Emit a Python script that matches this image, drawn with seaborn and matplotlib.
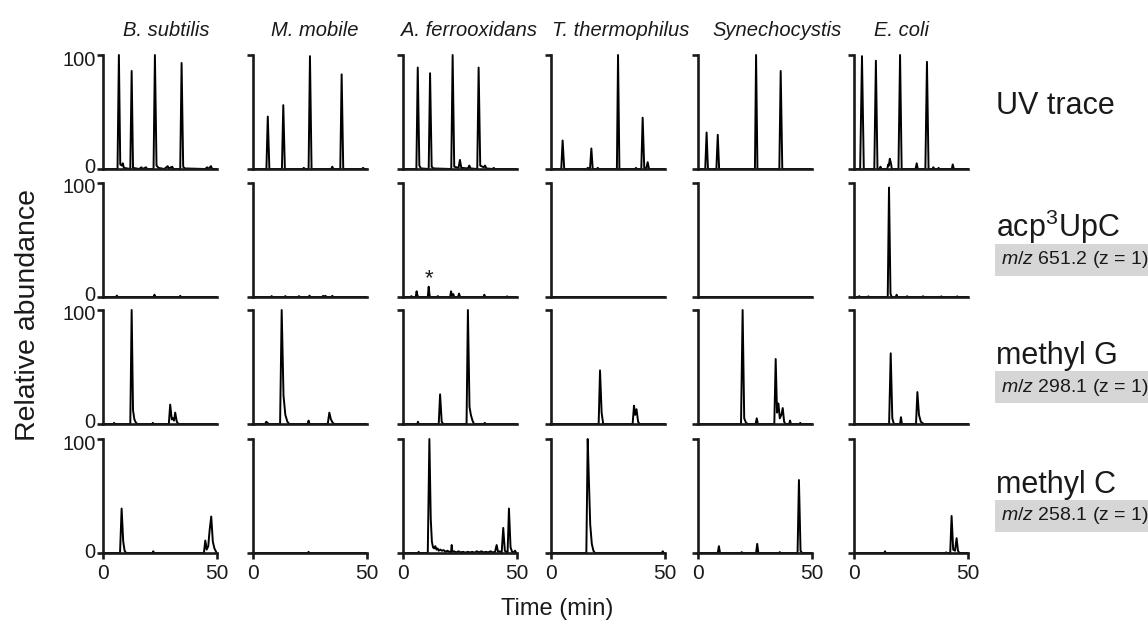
import matplotlib
matplotlib.use("Agg")
import matplotlib.pyplot as plt
from matplotlib.transforms import ScaledTranslation
import pandas as pd
import seaborn as sns

# ---------------- data ----------------
ORGANISMS = ["B. subtilis", "M. mobile", "A. ferrooxidans", "T. thermophilus", "Synechocystis", "E. coli"]
ROW_NAMES = ["UV trace", "acp$^\\mathregular{3}$UpC", "methyl G", "methyl C"]
ROW_MZ = [None, "651.2", "298.1", "258.1"]
Y_TICKS = [0, 100]
X_TICKS = [0, 50]
X_LABEL = "Time (min)"
Y_LABEL = "Relative abundance"

# traces: (time [min], relative abundance [%])
UV_BSUB = [(0, 0), (6.5, 0), (7.1, 100), (7.7, 4), (8.4, 3), (8.8, 5), (9.3, 1), (12.1, 0), (12.7, 86), (13.3, 1),
           (16, 0), (17, 1.5), (17.5, 0), (19, 1.5), (19.5, 0), (22.3, 0), (22.9, 100), (23.6, 3), (24.5, 1), (27, 0),
           (28.5, 2.5), (29, 0.5), (30.5, 2), (31, 0), (34, 0), (34.6, 93), (35.3, 2), (36, 0.5), (45, 0), (45.8, 1.5),
           (46.3, 0), (47.5, 2.5), (48, 0), (50, 0)]
UV_MMOB = [(0, 0), (6.1, 0), (6.7, 46), (7.4, 0), (12.9, 0), (13.5, 56), (14.2, 0), (22, 0), (22.5, 1), (23, 0),
           (24.6, 0), (25.2, 99), (25.9, 0), (34.5, 0), (35, 2), (35.5, 0), (38.5, 0), (39.1, 83), (39.8, 0), (48, 0),
           (48.5, 1), (49, 0), (50, 0)]
UV_AFER = [(0, 0), (6, 0), (6.6, 89), (7.3, 3), (8, 0.5), (11.4, 0), (12.0, 84), (12.7, 2), (13.5, 0.5), (21.3, 0),
           (21.9, 100), (22.6, 2), (24.5, 1), (25.1, 8), (25.7, 1), (28.6, 0.5), (29.2, 3), (29.8, 0.5), (32.7, 0),
           (33.3, 89), (34, 3), (35.5, 1.5), (36.1, 3), (36.7, 0.5), (39.5, 0), (39.9, 1), (40.4, 0), (50, 0)]
UV_TTHE = [(0, 0), (4.5, 0), (5.1, 25), (5.8, 0), (15.6, 0), (16.1, 1), (16.6, 0.5), (17.1, 0), (17.7, 18), (18.3, 0),
           (20.1, 0), (20.5, 1), (21, 0), (28.9, 0), (29.4, 100), (30, 0), (36.9, 0), (37.3, 1), (37.7, 0), (39.6, 0),
           (40.2, 45), (40.9, 1), (41.8, 0.5), (42.4, 6), (43, 0), (50, 0)]
UV_SYNE = [(0, 0), (3.3, 0), (3.9, 32), (4.5, 0), (8.2, 0), (8.8, 30), (9.4, 0), (25.1, 0), (25.6, 100), (26.2, 0),
           (35.8, 0), (36.4, 86), (37.1, 0), (50, 0)]
UV_ECOL = [(0, 0), (2.7, 0), (3.5, 99), (4.3, 0), (8.9, 0), (9.6, 95), (10.3, 0), (11.2, 0), (11.6, 2), (12, 0),
           (14.6, 0), (15.0, 4), (15.3, 3), (15.7, 9), (16.2, 5), (16.6, 0), (19.5, 0), (20.2, 100), (20.9, 0),
           (27.0, 0), (27.5, 5), (28, 0), (31.3, 0), (32, 94), (32.7, 0), (34.5, 0), (34.8, 1.5), (35.2, 0),
           (36.8, 0), (37.1, 1), (37.4, 0), (42.9, 0), (43.3, 4), (43.8, 0), (50, 0)]

ACP_BSUB = [(0, 0), (5.8, 0), (6.2, 1.2), (6.6, 0), (22.3, 0), (22.7, 2), (23.1, 0), (33.6, 0), (34, 1), (34.4, 0),
            (50, 0)]
ACP_MMOB = [(0, 0), (8, 0), (8.4, 0.8), (8.8, 0), (14, 0), (14.4, 0.8), (14.8, 0), (20, 0), (20.4, 0.8), (20.8, 0),
            (24.6, 0), (25, 1.2), (25.4, 0), (30.5, 0), (31, 1), (31.5, 0.3), (32, 1), (32.5, 0), (34.5, 0), (35, 1),
            (35.5, 0), (50, 0)]
ACP_AFER = [(0, 0), (3.5, 0), (3.8, 0.8), (4.1, 0), (5.7, 0), (6.1, 5), (6.5, 1), (7, 0), (11, 0), (11.4, 9),
            (11.8, 1), (12.3, 0), (15, 0), (15.4, 0.8), (15.8, 0), (20.8, 0), (21.2, 5), (21.6, 1), (22.2, 2.5),
            (22.6, 0), (24.3, 0), (24.7, 3), (25.2, 0), (35.4, 0), (35.8, 2), (36.2, 0), (45.5, 0), (45.8, 0.6),
            (46.1, 0), (50, 0)]
ACP_TTHE = [(0, 0), (50, 0)]
ACP_SYNE = [(0, 0), (50, 0)]
ACP_ECOL = [(0, 0), (2, 0), (2.3, 0.8), (2.6, 0), (6, 0), (6.3, 0.6), (6.6, 0), (14.8, 0), (15.35, 96), (16, 3),
            (16.5, 0), (18.4, 0), (18.7, 2), (19, 0), (23, 0), (23.3, 0.7), (23.6, 0), (30, 0), (30.3, 0.7),
            (30.6, 0), (38, 0), (38.3, 0.6), (38.6, 0), (45, 0), (45.3, 0.6), (45.6, 0), (50, 0)]
ASTERISK_PEAK = (11.4, 9)   # A. ferrooxidans acp3UpC peak marked with *

MEG_BSUB = [(0, 0), (4.7, 0), (5, 1), (5.3, 0), (12.1, 0), (12.7, 100), (13.3, 12), (13.9, 4), (14.6, 1), (15.3, 0),
            (21.7, 0), (22, 1), (22.3, 0), (29, 0), (29.6, 17), (30.3, 4), (30.8, 5), (31.3, 3), (31.8, 10),
            (32.5, 2), (33.2, 0), (50, 0)]
MEG_MMOB = [(0, 0), (5.6, 0), (6, 2), (6.6, 1), (7, 0), (12.1, 0), (12.8, 100), (13.6, 25), (14.4, 8), (15.3, 2),
            (16.1, 0), (24.2, 0), (24.6, 3), (25, 0), (33, 0), (33.7, 10), (34.4, 4), (35.2, 1), (36, 0), (50, 0)]
MEG_AFER = [(0, 0), (6.4, 0), (6.7, 2), (7, 0), (15.8, 0), (16.4, 26), (17.1, 2), (17.8, 0), (28.0, 0), (28.6, 100),
            (29.3, 15), (29.9, 8), (30.6, 3), (31.3, 0), (35.5, 0), (36, 1), (36.5, 0), (50, 0)]
MEG_TTHE = [(0, 0), (20.9, 0), (21.5, 47), (22.2, 10), (22.9, 0), (35.8, 0), (36.4, 16), (36.9, 8), (37.5, 13),
            (38.2, 2), (38.8, 0), (50, 0)]
MEG_SYNE = [(0, 0), (19, 0), (19.7, 100), (20.4, 5), (21.2, 1), (22, 0), (25.4, 0), (25.9, 5), (26.4, 0), (33.6, 0),
            (34.2, 57), (34.8, 10), (35.4, 18), (36, 5), (36.7, 8), (37.3, 14), (37.9, 2), (38.5, 0), (40.1, 0),
            (40.5, 3), (40.9, 0), (44.7, 0), (45, 1), (45.3, 0), (50, 0)]
MEG_ECOL = [(0, 0), (15.4, 0), (16.1, 62), (16.8, 5), (17.5, 0), (20.2, 0), (20.6, 6), (21, 0), (27.2, 0), (27.8, 28),
            (28.5, 8), (29.3, 2), (30.6, 0), (50, 0)]

MEC_BSUB = [(0, 0), (7.6, 0), (8.3, 39), (9, 10), (9.6, 2), (10.3, 0), (21.9, 0), (22.2, 1.5), (22.5, 0), (44.4, 0),
            (45, 11), (45.6, 3), (46.3, 6), (46.9, 20), (47.6, 32), (48.3, 10), (49, 4), (50, 0)]
MEC_MMOB = [(0, 0), (24.3, 0), (24.6, 1), (24.9, 0), (50, 0)]
MEC_AFER = [(0, 0), (6.7, 0), (7, 1), (7.3, 0), (11.0, 0), (11.7, 100), (12.3, 30), (12.8, 10), (13.3, 5), (13.8, 4),
            (14.3, 6), (14.8, 3), (15.3, 4), (15.8, 2), (16.5, 3), (17.2, 2), (18, 2.5), (18.8, 1), (19.6, 2),
            (20.5, 1), (21.2, 1), (21.5, 7), (21.8, 1), (22.5, 1.5), (23.5, 0.5), (24.5, 1.5), (25.5, 0.5), (26.5, 1),
            (27.5, 0.3), (28.5, 1), (29.5, 0.5), (30.5, 1), (31.5, 0.3), (32.5, 1.5), (33.5, 0.5), (34.5, 1.5),
            (35.5, 0.5), (36.5, 1), (37.5, 0.5), (38.5, 1.5), (39.5, 0.5), (40.5, 1), (41.2, 7), (41.8, 1),
            (42.5, 1.5), (43.4, 0), (44.1, 22), (44.8, 2), (45.4, 1), (46, 0), (46.6, 39), (47.3, 5), (48, 1),
            (48.7, 0.5), (49.3, 2), (49.8, 0), (50, 0)]
MEC_TTHE = [(0, 0), (15.5, 0), (16.1, 100), (16.6, 65), (17.2, 25), (17.9, 8), (18.6, 2), (19.3, 0), (48.6, 0),
            (49, 1.5), (49.4, 0), (50, 0)]
MEC_SYNE = [(0, 0), (8.8, 0), (9.3, 6), (9.8, 0), (19, 0), (19.3, 0.8), (19.6, 0), (25.6, 0), (26.1, 8), (26.6, 0),
            (35.7, 0), (36, 0.8), (36.3, 0), (43.8, 0), (44.4, 64), (45.1, 2), (45.8, 0), (50, 0)]
MEC_ECOL = [(0, 0), (13.3, 0), (13.6, 1.5), (13.9, 0), (40.1, 0), (40.4, 0.6), (40.7, 0), (42.2, 0), (42.8, 32.5),
            (43.5, 3), (44.3, 2), (45, 13), (45.6, 2), (46.2, 0), (50, 0)]

TRACES = [
    [UV_BSUB, UV_MMOB, UV_AFER, UV_TTHE, UV_SYNE, UV_ECOL],
    [ACP_BSUB, ACP_MMOB, ACP_AFER, ACP_TTHE, ACP_SYNE, ACP_ECOL],
    [MEG_BSUB, MEG_MMOB, MEG_AFER, MEG_TTHE, MEG_SYNE, MEG_ECOL],
    [MEC_BSUB, MEC_MMOB, MEC_AFER, MEC_TTHE, MEC_SYNE, MEC_ECOL],
]

# ---------------- style ----------------
sns.set_theme(style="ticks")
plt.rcParams["font.family"] = ["Liberation Sans", "DejaVu Sans"]
plt.rcParams["mathtext.fontset"] = "custom"
plt.rcParams["mathtext.rm"] = "Liberation Sans"
plt.rcParams["mathtext.it"] = "Liberation Sans:italic"

W, H = 1148, 635
fig = plt.figure(figsize=(W / 100, H / 100), dpi=100)
fig.patch.set_facecolor("white")

COL_X0 = [102.7, 252.5, 402.7, 551, 697.7, 854]
ROW_TOP = [55, 183, 310, 439]
AX_W, AX_H = 114, 114
SPINE_LW = 1.9
TRACE_LW = 1.4
INK = "#1a1a1a"

for r in range(4):
    for c in range(6):
        ax = fig.add_axes([COL_X0[c] / W, 1 - (ROW_TOP[r] + AX_H) / H, AX_W / W, AX_H / H])
        ax.set_facecolor("white")
        df = pd.DataFrame(TRACES[r][c], columns=["t", "y"])
        sns.lineplot(data=df, x="t", y="y", ax=ax, color="black", linewidth=TRACE_LW,
                     estimator=None, sort=False, legend=False)
        for ln in ax.lines:
            ln.set_clip_on(False)
        ax.set_xlim(X_TICKS[0], X_TICKS[-1])
        ax.set_ylim(Y_TICKS[0], Y_TICKS[-1])
        ax.set_xlabel("")
        ax.set_ylabel("")
        for s in ["top", "right"]:
            ax.spines[s].set_visible(False)
        for s in ["left", "bottom"]:
            ax.spines[s].set_linewidth(SPINE_LW)
            ax.spines[s].set_color(INK)
        ax.set_yticks(Y_TICKS)
        ax.tick_params(axis="y", length=4, width=SPINE_LW, color=INK, labelsize=14.5, pad=1,
                       labelleft=(c == 0), labelcolor=INK)
        if c == 0:
            # nudge "0" up and "100" down a little, as in the original figure
            for tick, dy in zip(ax.yaxis.get_major_ticks(), [3, -3]):
                tick.label1.set_transform(tick.label1.get_transform()
                                          + ScaledTranslation(0, dy / 100, fig.dpi_scale_trans))
        if r == 3:
            ax.set_xticks(X_TICKS)
            ax.tick_params(axis="x", length=4, width=SPINE_LW, color=INK, labelsize=15, pad=4,
                           labelcolor=INK)
        else:
            ax.set_xticks([])
        if r == 1 and c == 2:
            ax.annotate("*", xy=ASTERISK_PEAK, xytext=(0, -2), textcoords="offset points",
                        ha="center", va="bottom", fontsize=16, color=INK)

# column titles
TITLE_CX = [166, 315, 469, 621, 777, 902]
for name, cx in zip(ORGANISMS, TITLE_CX):
    fig.text(cx / W, 1 - 30 / H, name, ha="center", va="center", fontsize=14.5, style="italic", color=INK)

# row labels
LABEL_X = 996
for r in range(4):
    base = ROW_TOP[r] + (59 if r == 0 else 54)
    fig.text(LABEL_X / W, 1 - base / H, ROW_NAMES[r], ha="left", va="baseline", fontsize=22, color=INK)
    if ROW_MZ[r] is not None:
        yc = ROW_TOP[r] + 77
        fig.text(1001 / W, 1 - yc / H, "$\\mathit{m/z}$ " + ROW_MZ[r] + " (z = 1)", ha="left", va="center",
                 fontsize=14, color=INK,
                 bbox=dict(boxstyle="square,pad=0.3", fc="#d6d6d6", ec="none"))

fig.text(557 / W, 1 - 609 / H, X_LABEL, ha="center", va="center", fontsize=17, color=INK)
fig.text(28 / W, 1 - 315 / H, Y_LABEL, ha="center", va="center", rotation=90, fontsize=20.5, color=INK)

fig.savefig("out.png", dpi=100, facecolor="white")
